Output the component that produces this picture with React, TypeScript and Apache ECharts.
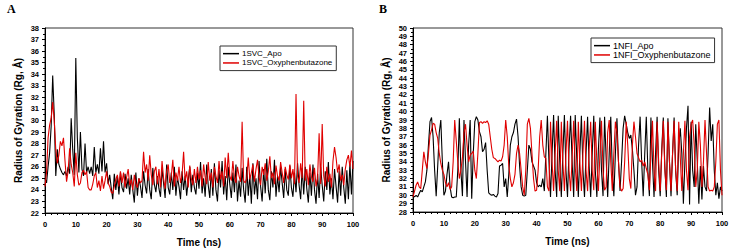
import React, { useEffect, useRef } from "react";
import * as echarts from "echarts";

// sample times: 0, 0.5, ..., 100 ns
const TIME: number[] = Array.from({ length: 201 }, (_, i) => i * 0.5);

const A_APO_NAME = "1SVC_Apo";
const A_OXY_NAME = "1SVC_Oxyphenbutazone";
const B_APO_NAME = "1NFI_Apo";
const B_OXY_NAME = "1NFI_Oxyphenbutazone";

const A_APO = [
  25.0, 24.6, 26.0, 27.2, 29.5, 33.9, 30.5, 25.2, 27.5, 26.2,
  25.8, 25.5, 25.3, 25.6, 25.2, 26.0, 25.4, 30.2, 27.5, 25.3,
  35.4, 28.5, 25.5, 29.0, 25.8, 25.2, 28.0, 25.5, 26.0, 25.4,
  26.0, 25.2, 27.7, 25.5, 26.2, 25.4, 27.6, 25.6, 28.2, 25.5,
  26.3, 24.5, 25.3, 24.2, 23.2, 25.4, 24.0, 25.2, 23.6, 25.5,
  24.2, 23.8, 25.4, 24.1, 25.0, 23.6, 25.3, 24.0, 22.9, 25.5,
  23.5, 25.0, 24.3, 23.3, 25.6, 24.4, 23.7, 25.8, 24.0, 23.2,
  25.9, 24.5, 23.8, 25.2, 24.1, 23.4, 25.8, 24.6, 23.3, 26.2,
  24.2, 23.6, 25.5, 24.0, 26.0, 23.5, 25.1, 24.3, 23.2, 25.6,
  24.0, 25.2, 23.5, 24.8, 26.0, 23.8, 25.3, 24.2, 23.6, 25.5,
  24.1, 26.4, 23.7, 25.0, 23.4, 26.2, 24.4, 23.3, 25.8, 23.5,
  26.3, 24.0, 23.0, 25.7, 24.2, 26.5, 23.6, 25.2, 23.1, 26.0,
  24.5, 23.3, 25.5, 23.8, 26.2, 23.0, 24.8, 23.4, 25.9, 24.0,
  22.9, 26.0, 23.5, 25.3, 22.8, 26.3, 23.6, 25.0, 23.2, 26.5,
  24.3, 23.0, 25.8, 23.7, 26.7, 24.0, 23.1, 25.6, 24.2, 26.6,
  23.4, 25.2, 23.8, 26.0, 24.6, 23.3, 25.8, 24.0, 23.5, 26.1,
  24.2, 23.4, 25.5, 23.8, 26.3, 24.4, 23.2, 25.9, 23.6, 26.0,
  24.1, 22.9, 25.5, 23.5, 26.2, 24.0, 22.8, 25.4, 23.3, 26.0,
  24.4, 23.0, 25.6, 24.0, 26.4, 23.6, 25.0, 23.2, 25.8, 24.3,
  22.9, 25.6, 23.5, 26.0, 24.2, 22.8, 25.7, 23.2, 26.3, 23.6,
  26.5,
];

const A_OXY = [
  24.3, 25.5, 28.5, 29.6, 30.2, 31.6, 30.0, 27.5, 26.3, 27.0,
  28.2, 27.8, 28.5, 26.5, 24.7, 25.6, 27.6, 26.2, 25.5, 24.3,
  27.2, 25.3, 24.4, 24.6, 25.5, 25.7, 25.3, 25.6, 24.2, 24.0,
  24.0, 24.5, 25.2, 25.5, 24.2, 24.8, 23.9, 25.2, 24.1, 24.8,
  25.6, 24.6, 24.3, 23.8, 23.7, 24.3, 24.9, 25.3, 24.3, 25.6,
  24.6, 25.5, 24.2, 25.1, 25.8, 24.4, 24.9, 24.0, 25.3, 24.5,
  24.2, 25.0, 24.6, 24.8, 27.3, 25.5, 26.2, 24.8, 27.0, 25.3,
  24.4, 25.6, 26.0, 24.5, 25.8, 24.2, 26.5, 25.0, 24.1, 25.6,
  26.2, 24.6, 25.2, 26.6, 24.3, 25.5, 24.8, 26.0, 24.6, 25.3,
  27.3, 24.8, 25.6, 24.2, 26.1, 25.0, 24.4, 25.8, 24.6, 26.0,
  24.9, 25.7, 24.3, 26.2, 25.1, 24.5, 26.4, 24.8, 25.5, 24.2,
  26.0, 25.2, 24.6, 26.5, 24.9, 25.6, 24.3, 26.8, 25.0, 27.2,
  25.2, 24.8, 26.5, 25.0, 24.6, 26.0, 25.2, 24.7, 29.9, 24.8,
  24.6, 25.0, 26.8, 24.9, 25.5, 26.2, 24.7, 25.8, 26.6, 25.1,
  24.4, 26.0, 25.3, 26.3, 24.8, 25.6, 26.9, 25.0, 25.5, 24.5,
  26.1, 25.2, 24.8, 26.4, 25.5, 24.6, 26.0, 25.3, 24.9, 26.2,
  25.0, 25.8, 24.5, 32.3, 25.2, 24.6, 26.3, 25.0, 31.7, 24.8,
  25.8, 24.4, 26.2, 25.1, 24.7, 25.9, 24.3, 25.0, 28.9, 24.5,
  29.7, 25.2, 24.3, 26.0, 24.7, 25.4, 24.2, 26.5, 27.7, 26.8,
  25.5, 26.2, 24.8, 25.3, 24.4, 25.8, 26.6, 27.0, 26.0, 27.4,
  25.8,
];

const B_APO = [
  30.0, 29.8, 30.0, 29.8, 30.2, 30.6, 30.4, 31.0, 31.6, 33.0,
  36.0, 38.8, 39.3, 37.0, 33.0, 29.9, 33.5, 37.5, 39.0, 34.0,
  30.0, 30.5, 32.5, 34.0, 31.0, 29.8, 29.7, 29.8, 29.8, 33.0,
  39.2, 33.0, 29.9, 39.0, 34.0, 29.8, 36.0, 39.0, 29.6, 35.0,
  38.8, 39.4, 39.0, 37.6, 37.0, 35.2, 35.5, 36.3, 33.0, 30.3,
  30.1, 30.0, 30.1, 29.9, 29.8, 30.2, 33.5, 33.6, 33.8, 31.0,
  32.0, 29.8, 32.5, 36.0, 37.0, 37.5, 38.5, 39.1, 37.0, 33.5,
  31.0, 30.0, 29.9, 30.0, 33.0, 36.0, 35.5, 34.0, 33.5, 33.0,
  31.5, 31.0, 31.2, 31.0, 32.0, 30.5, 35.0, 39.5, 34.0, 29.8,
  35.0, 39.6, 33.0, 29.8, 39.5, 34.0, 29.8, 35.0, 39.6, 33.0,
  29.8, 35.5, 39.5, 34.0, 29.8, 39.6, 34.5, 29.8, 35.0, 39.5,
  33.0, 29.8, 35.0, 39.4, 33.5, 29.8, 35.0, 39.5, 33.0, 29.8,
  35.5, 39.3, 33.0, 29.9, 39.4, 34.5, 29.8, 35.0, 39.4, 33.0,
  29.9, 35.0, 39.2, 34.0, 30.5, 34.0, 38.0, 39.5, 38.5, 37.5,
  36.8, 37.2, 35.5, 33.0, 30.0, 31.0, 36.0, 39.4, 34.0, 29.9,
  35.0, 39.4, 33.0, 29.9, 39.3, 34.0, 29.8, 35.0, 39.4, 33.0,
  29.9, 35.5, 39.3, 33.5, 29.8, 39.2, 34.0, 29.9, 35.0, 39.3,
  33.0, 30.0, 36.0, 38.0, 35.0, 29.0, 34.0, 38.0, 40.7, 28.9,
  38.8, 33.0, 31.0, 38.5, 34.0, 29.0, 33.5, 29.5, 33.5, 31.0,
  30.5, 35.0, 40.5, 36.5, 38.5, 33.0, 30.0, 31.5, 29.6, 31.0,
  30.5,
];

const B_OXY = [
  29.8, 30.5, 31.2, 31.6, 31.0, 30.8, 33.0, 35.2, 34.0, 33.2,
  35.0, 37.2, 37.8, 38.6, 38.5, 37.5, 36.8, 35.0, 33.8, 33.0,
  32.5, 31.5, 31.0, 31.5, 30.7, 31.0, 34.0, 39.0, 36.5, 34.0,
  32.0, 33.0, 34.5, 37.5, 38.5, 36.0, 34.0, 34.8, 35.0, 35.3,
  33.0, 32.0, 35.0, 38.7, 38.8, 38.6, 38.8, 38.7, 38.9, 38.5,
  37.0, 35.5, 34.5, 34.4, 34.2, 34.0, 34.2, 34.1, 34.6, 36.0,
  39.0, 37.0, 33.5, 32.0, 31.0, 31.5, 32.5, 35.0, 36.0, 35.0,
  33.0, 31.0, 30.0, 33.0, 38.5, 39.2, 38.0, 35.0, 32.0, 30.5,
  30.6, 33.0, 37.0, 39.0, 36.0, 34.6, 34.4, 31.0, 30.5, 38.8,
  34.0, 30.5, 35.0, 38.9, 33.0, 30.5, 38.8, 34.0, 30.5, 35.0,
  38.9, 33.0, 30.5, 34.5, 38.9, 33.5, 30.5, 38.8, 34.0, 30.5,
  35.0, 38.9, 33.0, 30.5, 35.5, 38.8, 33.0, 30.6, 38.8, 34.0,
  30.5, 35.0, 38.9, 33.0, 30.6, 31.0, 37.5, 39.0, 34.0, 30.5,
  35.0, 38.8, 37.5, 34.0, 31.0, 30.5, 30.8, 34.0, 38.8, 36.0,
  32.0, 30.8, 36.0, 38.8, 37.0, 35.0, 34.5, 34.0, 34.2, 33.5,
  34.0, 33.2, 32.5, 30.6, 35.0, 38.9, 33.0, 30.5, 38.8, 34.0,
  30.5, 35.0, 38.9, 33.0, 30.6, 38.8, 34.0, 30.5, 35.0, 38.9,
  33.0, 30.5, 38.8, 34.5, 30.5, 35.0, 38.9, 33.0, 30.6, 37.0,
  38.5, 39.0, 36.0, 31.0, 33.0, 38.8, 36.0, 31.0, 34.0, 39.0,
  35.0, 31.0, 30.5, 30.6, 30.5, 31.0, 34.0, 38.5, 39.0, 33.0,
  30.0,
];

const X_TITLE = "Time (ns)";
const Y_TITLE = "Radius of Gyration (Rg, Å)";

const BLACK = "#000000";
const RED = "#e00000";
const FONT = "Liberation Sans, Arial, sans-serif";

function pairs(vals: number[]) {
  return vals.map((v, i) => [TIME[i], v]);
}

function xAxisFor(gridIndex: number) {
  return {
    type: "value",
    gridIndex,
    min: 0,
    max: 100,
    interval: 10,
    name: X_TITLE,
    nameLocation: "middle",
    nameGap: 24,
    nameTextStyle: { fontFamily: FONT, fontWeight: "bold", fontSize: 10, color: "#000" },
    axisLine: { show: true, lineStyle: { color: "#000", width: 1 } },
    axisTick: { show: true, inside: false, length: 3, lineStyle: { color: "#000" } },
    minorTick: { show: true, splitNumber: 5, length: 2, lineStyle: { color: "#000" } },
    splitLine: { show: false },
    axisLabel: { fontFamily: FONT, fontWeight: "bold", fontSize: 7.5, color: "#000", margin: 7 },
  };
}

function yAxisFor(gridIndex: number, min: number, max: number) {
  return {
    type: "value",
    gridIndex,
    min,
    max,
    interval: 1,
    name: Y_TITLE,
    nameLocation: "middle",
    nameGap: 22,
    nameTextStyle: { fontFamily: FONT, fontWeight: "bold", fontSize: 10, color: "#000" },
    axisLine: { show: true, lineStyle: { color: "#000", width: 1 } },
    axisTick: { show: true, inside: false, length: 3, lineStyle: { color: "#000" } },
    minorTick: { show: true, splitNumber: 2, length: 2, lineStyle: { color: "#000" } },
    splitLine: { show: false },
    axisLabel: { fontFamily: FONT, fontWeight: "bold", fontSize: 7.5, color: "#000", margin: 6 },
  };
}

function lineSeries(name: string, vals: number[], color: string, idx: number) {
  return {
    type: "line",
    name,
    xAxisIndex: idx,
    yAxisIndex: idx,
    data: pairs(vals),
    showSymbol: false,
    symbol: "none",
    lineStyle: { color, width: 1.1 },
    itemStyle: { color },
  };
}

function legendFor(names: string[], left: number, top: number, fontSize: number) {
  return {
    data: names,
    orient: "vertical",
    left,
    top,
    icon: "rect",
    itemWidth: 16,
    itemHeight: 1.5,
    itemGap: 0,
    padding: [3, 4, 3, 3],
    borderColor: "#333",
    borderWidth: 1,
    textStyle: { fontFamily: FONT, fontSize, color: "#000", lineHeight: 9.3, padding: [0, 0, 0, -2] },
  };
}

export default function App() {
  const ref = useRef<HTMLDivElement>(null);
  useEffect(() => {
    if (!ref.current) return;
    const chart = echarts.init(ref.current, null, { renderer: "svg" });
    chart.setOption({
      animation: false,
      backgroundColor: "#ffffff",
      grid: [
        { left: 45, right: 380, top: 28, bottom: 39, show: true, borderColor: "#333", borderWidth: 1 },
        { left: 413, right: 11, top: 28, bottom: 40, show: true, borderColor: "#333", borderWidth: 1 },
      ],
      xAxis: [xAxisFor(0), xAxisFor(1)],
      yAxis: [yAxisFor(0, 22, 38), yAxisFor(1, 28, 50)],
      legend: [
        legendFor([A_APO_NAME, A_OXY_NAME], 220, 46, 8),
        legendFor([B_APO_NAME, B_OXY_NAME], 591, 38, 9),
      ],
      series: [
        lineSeries(A_APO_NAME, A_APO, BLACK, 0),
        lineSeries(A_OXY_NAME, A_OXY, RED, 0),
        lineSeries(B_APO_NAME, B_APO, BLACK, 1),
        lineSeries(B_OXY_NAME, B_OXY, RED, 1),
      ],
      graphic: [
        { type: "text", left: 7, top: 3, style: { text: "A", fontFamily: "Liberation Serif, serif", fontWeight: "bold", fontSize: 12, fill: "#000" } },
        { type: "text", left: 379, top: 3, style: { text: "B", fontFamily: "Liberation Serif, serif", fontWeight: "bold", fontSize: 12, fill: "#000" } },
      ],
    });
    return () => chart.dispose();
  }, []);
  return (
    <div
      ref={ref}
      style={{ position: "fixed", left: 0, top: 0, width: 733, height: 252, background: "#fff" }}
    />
  );
}
